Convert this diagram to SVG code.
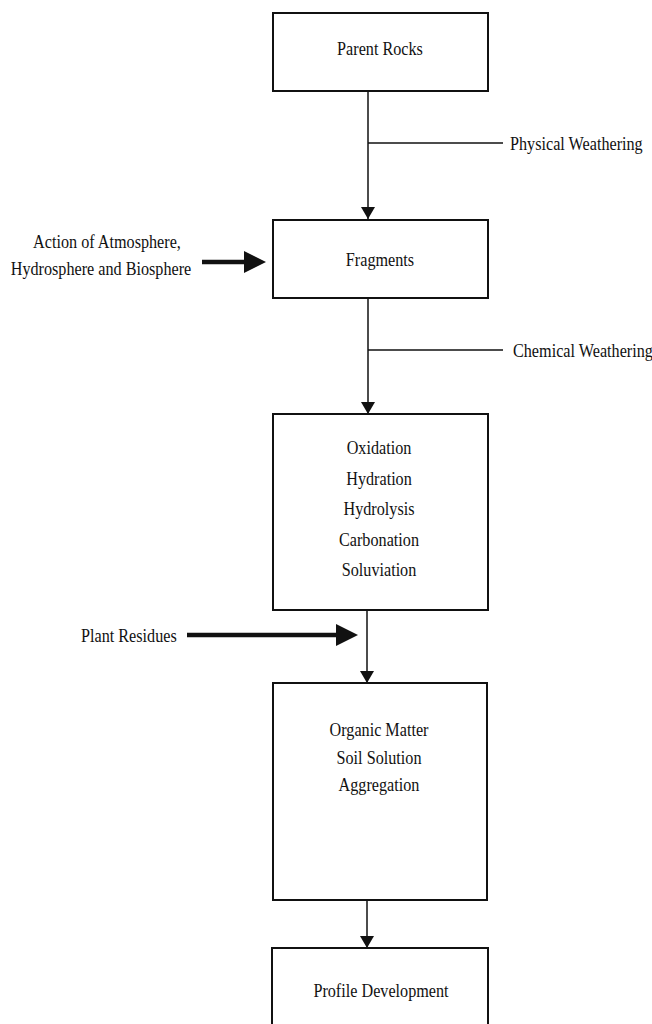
<svg xmlns="http://www.w3.org/2000/svg" width="652" height="1024" viewBox="0 0 652 1024">
<style>
.box{fill:#fff;stroke:#111;stroke-width:2}
.t{font-family:"Liberation Serif","Times New Roman",serif;font-size:19.5px;fill:#111}
.c{text-anchor:middle}
.ln{stroke:#111;stroke-width:1.5;fill:none}
.thick{stroke:#111;stroke-width:4.5;fill:none}
</style>
<defs>
<marker id="ah" markerWidth="12" markerHeight="16" refX="12" refY="8" orient="auto" markerUnits="userSpaceOnUse" viewBox="0 0 12 16">
<path d="M0,1 L12,8 L0,15 Z" fill="#111"/>
</marker>
</defs>
<rect width="652" height="1024" fill="#fff"/>
<g id="connectors">
<line class="ln" x1="368" y1="91" x2="368" y2="219" marker-end="url(#ah)"/>
<line class="ln" x1="368" y1="143" x2="503" y2="143"/>
<line class="ln" x1="368" y1="298" x2="368" y2="414" marker-end="url(#ah)"/>
<line class="ln" x1="368" y1="350" x2="503" y2="350"/>
<line class="ln" x1="367" y1="610" x2="367" y2="683" marker-end="url(#ah)"/>
<line class="ln" x1="367" y1="900" x2="367" y2="948" marker-end="url(#ah)"/>
<line class="thick" x1="202" y1="262" x2="246" y2="262"/>
<path d="M244,251 L266,262 L244,273 Z" fill="#111"/>
<line class="thick" x1="187" y1="635" x2="338" y2="635"/>
<path d="M336,624 L358,635 L336,646 Z" fill="#111"/>
</g>
<g id="n-parent">
<rect class="box" x="273" y="13" width="215" height="78"/>
<text class="t c" transform="translate(380,55) scale(0.83,1)">Parent Rocks</text>
</g>
<g id="n-physical">
<text class="t" transform="translate(510,150) scale(0.83,1)">Physical Weathering</text>
</g>
<g id="n-action">
<text class="t c" transform="translate(107,248) scale(0.83,1)">Action of Atmosphere,</text>
<text class="t c" transform="translate(101,275) scale(0.83,1)">Hydrosphere and Biosphere</text>
</g>
<g id="n-fragments">
<rect class="box" x="273" y="220" width="215" height="78"/>
<text class="t c" transform="translate(380,266) scale(0.83,1)">Fragments</text>
</g>
<g id="n-chemical">
<text class="t" transform="translate(513,357) scale(0.83,1)">Chemical Weathering</text>
</g>
<g id="n-processes">
<rect class="box" x="273" y="414" width="215" height="196"/>
<text class="t c" transform="translate(379,454) scale(0.83,1)">Oxidation</text>
<text class="t c" transform="translate(379,485) scale(0.83,1)">Hydration</text>
<text class="t c" transform="translate(379,515) scale(0.83,1)">Hydrolysis</text>
<text class="t c" transform="translate(379,546) scale(0.83,1)">Carbonation</text>
<text class="t c" transform="translate(379,576) scale(0.83,1)">Soluviation</text>
</g>
<g id="n-plant">
<text class="t" transform="translate(81,642) scale(0.83,1)">Plant Residues</text>
</g>
<g id="n-organic">
<rect class="box" x="273" y="683" width="214" height="217"/>
<text class="t c" transform="translate(379,736) scale(0.83,1)">Organic Matter</text>
<text class="t c" transform="translate(379,764) scale(0.83,1)">Soil Solution</text>
<text class="t c" transform="translate(379,791) scale(0.83,1)">Aggregation</text>
</g>
<g id="n-profile">
<rect class="box" x="272" y="948" width="216" height="90"/>
<text class="t c" transform="translate(381,997) scale(0.83,1)">Profile Development</text>
</g>
</svg>
